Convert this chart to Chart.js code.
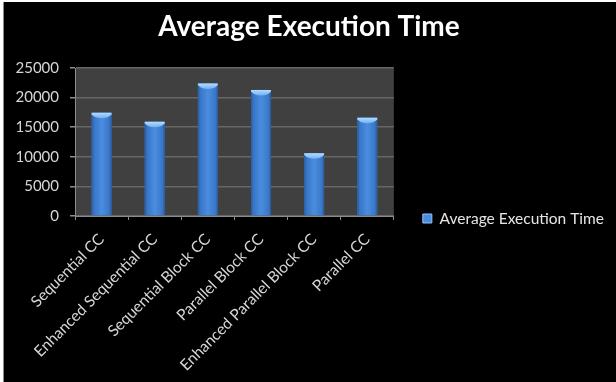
<!DOCTYPE html>
<html>
<head>
<meta charset="utf-8">
<script src="https://cdn.jsdelivr.net/npm/chart.js@4.4.1/dist/chart.umd.min.js"></script>
<style>
  html, body { margin: 0; padding: 0; background: #fff; }
  #wrap { position: absolute; left: 3px; top: 2px; width: 612px; height: 380px; background: #000; border-left: 1px solid #8a8a8a; }
</style>
</head>
<body>
<div id="wrap"><canvas id="execChart"></canvas></div>
<script>
const categories = ["Sequential CC", "Enhanced Sequential CC", "Sequential Block CC",
    "Parallel Block CC", "Enhanced Parallel Block CC", "Parallel CC"];
const avgTimes = [17450, 15900, 22400, 21300, 10600, 16600];
const yTicks = [0, 5000, 10000, 15000, 20000, 25000];
const seriesName = "Average Execution Time";

const fontFamily = "Lato, 'Open Sans', sans-serif";

// gray plot background
const plotBg = {
    id: "plotBg",
    beforeDraw(chart) {
        const { ctx, chartArea: a } = chart;
        ctx.save();
        ctx.fillStyle = "#404040";
        ctx.fillRect(a.left, a.top, a.right - a.left, a.bottom - a.top);
        ctx.restore();
    }
};

// cylinder-ish shading on top of the library's bars
const barShade = {
    id: "barShade",
    afterDatasetsDraw(chart) {
        const ctx = chart.ctx;
        chart.getDatasetMeta(0).data.forEach(function (bar) {
            const { x, y, base, width } = bar.getProps(["x", "y", "base", "width"], true);
            const l = x - width / 2, r = x + width / 2;
            const g = ctx.createLinearGradient(l, 0, r, 0);
            g.addColorStop(0, "#2a5a9e");
            g.addColorStop(0.12, "#3875c6");
            g.addColorStop(0.5, "#4a8de0");
            g.addColorStop(0.88, "#3a78c8");
            g.addColorStop(1, "#28579a");
            ctx.save();
            ctx.fillStyle = g;
            ctx.fillRect(l, y, width, base - y);
            // cap
            const cap = ctx.createLinearGradient(0, y, 0, y + 6);
            cap.addColorStop(0, "#b5dcff");
            cap.addColorStop(1, "#6aaaf0");
            ctx.fillStyle = cap;
            ctx.beginPath();
            ctx.moveTo(l, y);
            ctx.lineTo(r, y);
            ctx.lineTo(r, y + 1.5);
            ctx.quadraticCurveTo(r - 3, y + 5.5, x, y + 5.5);
            ctx.quadraticCurveTo(l + 3, y + 5.5, l, y + 1.5);
            ctx.closePath();
            ctx.fill();
            ctx.restore();
        });
    }
};

const ctx = document.getElementById("execChart").getContext("2d");
const execChart = new Chart(ctx, {
    type: "bar",
    data: {
        labels: categories,
        datasets: [{
            label: seriesName,
            data: avgTimes,
            backgroundColor: "#3f82d6",
            borderWidth: 0,
            barPercentage: 0.375,
            categoryPercentage: 1.0
        }]
    },
    options: {
        responsive: true,
        maintainAspectRatio: false,
        animation: false,
        layout: { padding: { left: 0, top: 0, bottom: 0, right: 2 } },
        plugins: {
            title: {
                display: true,
                text: seriesName,
                color: "#ffffff",
                font: { family: fontFamily, size: 28, weight: "bold" },
                padding: { top: 8, bottom: 24.4 }
            },
            legend: {
                display: true,
                position: "right",
                maxWidth: 240,
                title: {
                    display: true,
                    text: " ",
                    font: { size: 12 },
                    padding: { top: 0, bottom: 38.6 }
                },
                labels: {
                    color: "#e6e6e6",
                    font: { family: fontFamily, size: 15.5 },
                    boxWidth: 9,
                    boxHeight: 9,
                    padding: 29,
                    generateLabels(chart) {
                        return [{
                            text: seriesName,
                            fillStyle: "#4a8de0",
                            strokeStyle: "#8fc6ff",
                            lineWidth: 1,
                            fontColor: "#e6e6e6",
                            datasetIndex: 0
                        }];
                    }
                }
            },
            tooltip: { enabled: false }
        },
        scales: {
            x: {
                grid: {
                    display: true,
                    drawOnChartArea: false,
                    drawTicks: true,
                    tickLength: 4,
                    color: "#8c8c8c",
                    offset: true
                },
                border: { display: true, color: "#8c8c8c" },
                ticks: {
                    color: "#d6d6d6",
                    font: { family: fontFamily, size: 15.5 },
                    minRotation: 45,
                    maxRotation: 45,
                    autoSkip: false,
                    padding: 10
                },
                afterFit(scale) { scale.height = 166; }
            },
            y: {
                min: 0,
                max: 25000,
                afterBuildTicks(scale) {
                    scale.ticks = yTicks.map(v => ({ value: v }));
                },
                grid: {
                    color: "#666666",
                    lineWidth: 1.5,
                    drawTicks: true,
                    tickLength: 5,
                    tickColor: "#8c8c8c"
                },
                border: { display: true, color: "#8c8c8c" },
                ticks: {
                    color: "#d6d6d6",
                    font: { family: fontFamily, size: 15 },
                    padding: 11,
                    callback: v => String(v)
                },
                afterFit(scale) { scale.width = 71; }
            }
        }
    },
    plugins: [plotBg, barShade]
});
</script>
</body>
</html>
